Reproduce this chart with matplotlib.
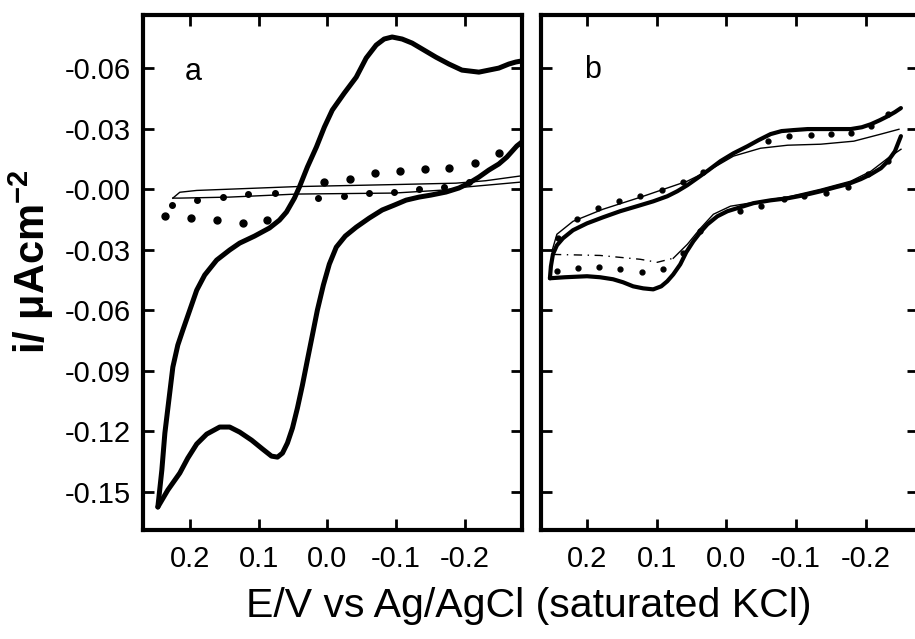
import matplotlib
matplotlib.use("Agg")
import matplotlib.pyplot as plt

plt.rcParams['font.family'] = ['Liberation Sans', 'DejaVu Sans']
plt.rcParams['mathtext.fontset'] = 'custom'
plt.rcParams['mathtext.rm'] = 'Liberation Sans'
plt.rcParams['mathtext.bf'] = 'Liberation Sans:bold'

# ---------------- data: panel a ----------------
a_low_x = [0.2464, 0.2319, 0.2145, 0.2029, 0.1899, 0.1754, 0.1565, 0.1420, 0.1275, 0.1101,
           0.0942, 0.0812, 0.0725, 0.0652, 0.0580, 0.0507, 0.0435, 0.0362, 0.0290, 0.0217,
           0.0145, 0.0058, -0.0029, -0.0130, -0.0261, -0.0420, -0.0609, -0.0797, -0.0971,
           -0.1145, -0.1333, -0.1507, -0.1725, -0.1913, -0.2058, -0.2203, -0.2348, -0.2493,
           -0.2609, -0.2754, -0.2899]
a_low_y = [-0.1574, -0.1490, -0.1406, -0.1332, -0.1262, -0.1213, -0.1178, -0.1178, -0.1203,
           -0.1243, -0.1287, -0.1322, -0.1327, -0.1307, -0.1257, -0.1183, -0.1084, -0.0970,
           -0.0846, -0.0722, -0.0599, -0.0475, -0.0371, -0.0287, -0.0232, -0.0188, -0.0143,
           -0.0103, -0.0079, -0.0054, -0.0039, -0.0029, -0.0014, 0.0006, 0.0030, 0.0060,
           0.0095, 0.0125, 0.0159, 0.0214, 0.0253]
a_up_x = [0.2464, 0.2406, 0.2362, 0.2304, 0.2246, 0.2174, 0.2101, 0.2000, 0.1899, 0.1783,
          0.1609, 0.1420, 0.1275, 0.1058, 0.0841, 0.0696, 0.0594, 0.0478, 0.0406, 0.0290,
          0.0159, 0.0043, -0.0072, -0.0246, -0.0420, -0.0565, -0.0710, -0.0826, -0.0942,
          -0.1087, -0.1232, -0.1406, -0.1580, -0.1768, -0.1957, -0.2203, -0.2493, -0.2638,
          -0.2739, -0.2899]
a_up_y = [-0.1574, -0.1391, -0.1208, -0.1044, -0.0881, -0.0772, -0.0698, -0.0599, -0.0500,
          -0.0425, -0.0351, -0.0301, -0.0267, -0.0232, -0.0192, -0.0153, -0.0113, -0.0044,
          0.0011, 0.0110, 0.0209, 0.0308, 0.0392, 0.0476, 0.0555, 0.0650, 0.0714, 0.0744,
          0.0754, 0.0744, 0.0724, 0.0689, 0.0654, 0.0620, 0.0590, 0.0580, 0.0600, 0.0620,
          0.0630, 0.0640]

a_thin1_x = [0.2246, 0.2145, 0.1899, 0.0449, -0.0971, -0.1870, -0.2300, -0.2900]
a_thin1_y = [-0.0044, -0.0015, -0.0006, 0.0013, 0.0023, 0.0030, 0.0042, 0.0070]
a_thin2_x = [0.2246, 0.2145, 0.1420, 0.0449, -0.0971, -0.1696, -0.1986, -0.2900]
a_thin2_y = [-0.0044, -0.0044, -0.0039, -0.0024, -0.0019, -0.0004, 0.0010, 0.0038]

a_dotA_x = [0.2261, 0.1899, 0.1522, 0.1159, 0.0768, 0.0130, -0.0246, -0.0609, -0.0971,
            -0.1333, -0.1696, -0.2058]
a_dotA_y = [-0.0078, -0.0053, -0.0039, -0.0024, -0.0019, -0.0044, -0.0034, -0.0019, -0.0014,
            0.0001, 0.0011, 0.0036]
a_dotB_x = [0.2362, 0.1986, 0.1609, 0.1232, 0.0870, 0.0043, -0.0333, -0.0696, -0.1058,
            -0.1420, -0.1768, -0.2145, -0.2493]
a_dotB_y = [-0.0133, -0.0143, -0.0152, -0.0167, -0.0152, 0.0036, 0.0051, 0.0080, 0.0090,
            0.0100, 0.0105, 0.0130, 0.0179]

# ---------------- data: panel b ----------------
b_thick_up_x = [0.2532, 0.2518, 0.2489, 0.2432, 0.2345, 0.2201, 0.2000, 0.1770, 0.1525,
                0.1281, 0.1050, 0.0849, 0.0705, 0.0561, 0.0417, 0.0259, 0.0086, -0.0101,
                -0.0302, -0.0460, -0.0633, -0.0791, -0.0964, -0.1165, -0.1353, -0.1568,
                -0.1784, -0.1942, -0.2072, -0.2201, -0.2316, -0.2417, -0.2503]
b_thick_up_y = [-0.0441, -0.0382, -0.0322, -0.0278, -0.0243, -0.0203, -0.0169, -0.0139,
                -0.0109, -0.0084, -0.0060, -0.0035, -0.0010, 0.0020, 0.0055, 0.0094, 0.0139,
                0.0178, 0.0213, 0.0243, 0.0273, 0.0288, 0.0293, 0.0298, 0.0298, 0.0298,
                0.0298, 0.0307, 0.0322, 0.0342, 0.0362, 0.0382, 0.0402]
b_thick_low_x = [0.2532, 0.2317, 0.2000, 0.1813, 0.1626, 0.1482, 0.1338, 0.1194, 0.1050,
                 0.0935, 0.0849, 0.0763, 0.0662, 0.0576, 0.0475, 0.0374, 0.0273, 0.0130,
                 -0.0014, -0.0201, -0.0388, -0.0633, -0.0878, -0.1108, -0.1353, -0.1568,
                 -0.1741, -0.1928, -0.2072, -0.2216, -0.2316, -0.2417, -0.2503]
b_thick_low_y = [-0.0441, -0.0436, -0.0431, -0.0436, -0.0446, -0.0461, -0.0481, -0.0491,
                 -0.0496, -0.0481, -0.0456, -0.0422, -0.0372, -0.0312, -0.0258, -0.0213,
                 -0.0174, -0.0134, -0.0109, -0.0089, -0.0069, -0.0055, -0.0045, -0.0030,
                 -0.0010, 0.0010, 0.0025, 0.0050, 0.0074, 0.0104, 0.0139, 0.0188, 0.0263]

b_thin_up_x = [0.2504, 0.2432, 0.2201, 0.1770, 0.1237, 0.0561, 0.0273, -0.0101, -0.0489,
               -0.0878, -0.1353, -0.1827, -0.2216, -0.2475]
b_thin_up_y = [-0.0308, -0.0223, -0.0159, -0.0099, -0.0040, 0.0040, 0.0089, 0.0164, 0.0203,
               0.0218, 0.0223, 0.0238, 0.0273, 0.0297]
b_thin_low_x = [0.2489, 0.1813, 0.1237, 0.0993, 0.0763, 0.0561, 0.0374, 0.0187, -0.0058,
                -0.0489, -0.0921, -0.1353, -0.1784, -0.2072, -0.2317, -0.2504]
b_thin_low_y = [-0.0323, -0.0328, -0.0347, -0.0362, -0.0342, -0.0273, -0.0194, -0.0124,
                -0.0084, -0.0060, -0.0035, -0.0000, 0.0040, 0.0089, 0.0154, 0.0198]

b_dot_x = [0.2417, 0.2144, 0.1842, 0.1540, 0.1237, 0.0921, 0.0619, 0.0331, -0.0590, -0.0892,
           -0.1209, -0.1496, -0.1784, -0.2072, -0.2317,
           0.2432, 0.2129, 0.1827, 0.1525, 0.1209, 0.0906, 0.0619, 0.0374, -0.0201, -0.0489,
           -0.0820, -0.1108, -0.1424, -0.1741, -0.2029, -0.2317]
b_dot_y = [-0.0243, -0.0149, -0.0094, -0.0060, -0.0035, -0.0005, 0.0035, 0.0084, 0.0238,
           0.0263, 0.0268, 0.0273, 0.0278, 0.0312, 0.0372,
           -0.0407, -0.0392, -0.0387, -0.0397, -0.0412, -0.0397, -0.0318, -0.0209, -0.0109,
           -0.0084, -0.0050, -0.0035, -0.0020, 0.0010, 0.0074, 0.0139]

y_ticks = [0.06, 0.03, 0.0, -0.03, -0.06, -0.09, -0.12, -0.15]
y_labels = ['-0.06', '-0.03', '-0.00', '-0.03', '-0.06', '-0.09', '-0.12', '-0.15']
x_ticks = [0.2, 0.1, 0.0, -0.1, -0.2]
x_labels = ['0.2', '0.1', '0.0', '-0.1', '-0.2']

# ---------------- figure ----------------
fig = plt.figure(figsize=(9.15, 6.39), dpi=100)
W, H = 915.0, 639.0
ax_a = fig.add_axes([143 / W, 1 - 530 / H, (522 - 143) / W, (530 - 15) / H])
ax_b = fig.add_axes([541 / W, 1 - 530 / H, (918 - 541) / W, (530 - 15) / H])

ylim = (-0.1688, 0.0863)

for ax in (ax_a, ax_b):
    for s in ax.spines.values():
        s.set_linewidth(3.0)
    ax.set_ylim(*ylim)
    ax.set_yticks(y_ticks)
    ax.set_xticks(x_ticks)
    ax.set_xticklabels(x_labels)
    ax.tick_params(direction='in', length=8, width=2, top=True, right=True,
                   labelsize=21, pad=11)
    ax.tick_params(axis='y', pad=9)

ax_a.set_xlim(0.268, -0.283)
ax_b.set_xlim(0.266, -0.2748)
ax_a.set_yticklabels(y_labels)
ax_b.set_yticklabels([])

thick = dict(color='black', solid_capstyle='round', solid_joinstyle='round')
# panel a
ax_a.plot(a_thin1_x, a_thin1_y, color='black', lw=1.0)
ax_a.plot(a_thin2_x, a_thin2_y, color='black', lw=1.0)
ax_a.plot(a_dotA_x, a_dotA_y, 'o', color='black', ms=4)
ax_a.plot(a_dotB_x, a_dotB_y, 'o', color='black', ms=5)
ax_a.plot(a_low_x, a_low_y, lw=3.6, **thick)
ax_a.plot(a_up_x, a_up_y, lw=3.6, **thick)

# panel b
ax_b.plot(b_thin_up_x, b_thin_up_y, color='black', lw=1.0)
ax_b.plot(b_thin_low_x[:5], b_thin_low_y[:5], color='black', lw=1.0, ls=(0, (6, 4, 1, 4)))
ax_b.plot(b_thin_low_x[4:], b_thin_low_y[4:], color='black', lw=1.0)
ax_b.plot(b_dot_x, b_dot_y, 'o', color='black', ms=3.5)
ax_b.plot(b_thick_up_x, b_thick_up_y, lw=3.0, **thick)
ax_b.plot(b_thick_low_x, b_thick_low_y, lw=3.0, **thick)

fig.text(193 / W, 1 - 72 / H, 'a', fontsize=22, ha='center', va='center')
fig.text(593 / W, 1 - 70 / H, 'b', fontsize=22, ha='center', va='center')

fig.text(529 / W, 1 - 606 / H, 'E/V vs Ag/AgCl (saturated KCl)', fontsize=29.5,
         ha='center', va='center')
fig.text(31 / W, 1 - 262 / H, 'i/ \u03bcAcm$^{\\mathbf{-2}}$', fontsize=30,
         fontweight='bold', rotation=90, ha='center', va='center')

fig.savefig('out.png', dpi=100)
